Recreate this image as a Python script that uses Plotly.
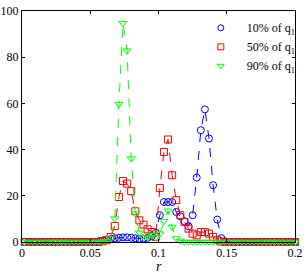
import plotly.graph_objects as go

# sample positions (r)
r = [0.002, 0.005, 0.008, 0.011, 0.014, 0.017, 0.020, 0.023, 0.026, 0.029,
     0.032, 0.035, 0.038, 0.041, 0.044, 0.047, 0.050, 0.053, 0.056, 0.059,
     0.062, 0.065, 0.068, 0.071, 0.074, 0.077, 0.080, 0.083, 0.086, 0.089,
     0.092, 0.095, 0.098, 0.101, 0.104, 0.107, 0.110, 0.113, 0.116, 0.119,
     0.122, 0.125, 0.128, 0.131, 0.134, 0.137, 0.140, 0.143, 0.146, 0.149,
     0.152, 0.155, 0.158, 0.161, 0.164, 0.167, 0.170, 0.173, 0.176, 0.179,
     0.182, 0.185, 0.188, 0.191, 0.194, 0.197, 0.200]

q10 = [0, 0, 0, 0, 0, 0, 0, 0, 0, 0,
       0, 0, 0, 0, 0, 0, 0, 0, 0.3, 0.6,
       1.0, 1.3, 1.6, 1.8, 2.0, 2.0, 1.8, 1.6, 1.4, 1.5,
       1.8, 2.5, 4.0, 11.6, 17.3, 17.3, 17.3, 13.0, 11.1, 9.0,
       6.8, 11.6, 27.9, 48.4, 57.4, 44.8, 24.6, 9.7, 1.7, 0.3,
       0, 0, 0, 0, 0, 0, 0, 0, 0, 0,
       0, 0, 0, 0, 0, 0, 0]

q50 = [0, 0, 0, 0, 0, 0, 0, 0, 0, 0,
       0, 0, 0, 0, 0, 0, 0, 0, 0, 0.3,
       0.8, 2.2, 6.9, 19.5, 26.4, 25.3, 22.0, 13.3, 9.4, 7.5,
       5.5, 4.3, 2.2, 23.4, 39.0, 44.4, 28.9, 18.1, 11.6, 8.7,
       5.8, 3.6, 2.9, 4.3, 4.3, 3.6, 2.2, 0.8, 0.2, 0,
       0, 0, 0, 0, 0, 0, 0, 0, 0, 0,
       0, 0, 0, 0, 0, 0, 0]

q90 = [0, 0, 0, 0, 0, 0, 0, 0, 0, 0,
       0, 0, 0, 0, 0, 0, 0, 0, 0, 0,
       0.3, 1.5, 10.1, 59.7, 94.7, 82.8, 36.1, 12.3, 4.0, 2.0,
       2.0, 3.0, 2.0, 3.6, 9.0, 13.5, 6.5, 1.5, 0.5, 0,
       0, 0, 0, 0, 0, 0, 0, 0, 0, 0,
       0, 0, 0, 0, 0, 0, 0, 0, 0, 0,
       0, 0, 0, 0, 0, 0, 0]

labels = ["&nbsp;&nbsp;10% of q<sub>1</sub>", "&nbsp;&nbsp;50% of q<sub>1</sub>",
          "&nbsp;&nbsp;90% of q<sub>1</sub>"]
colors = ["#0000ff", "#ff0000", "#00ff00"]
symbols = ["circle-open", "square-open", "triangle-down-open"]
series = [q10, q50, q90]

FONT = "Liberation Serif, Times New Roman, serif"

fig = go.Figure()
for ys, c, s in zip(series, colors, symbols):
    fig.add_trace(go.Scatter(
        x=r, y=ys, mode="lines+markers", showlegend=False, cliponaxis=False,
        line=dict(color=c, width=1, dash="dash"),
        marker=dict(symbol=s, size=7, color=c, line=dict(color=c, width=1)),
    ))
for lab, c, s in zip(labels, colors, symbols):
    fig.add_trace(go.Scatter(
        x=[None], y=[None], mode="markers", name=lab,
        marker=dict(symbol=s, size=6, color=c, line=dict(color=c, width=1)),
    ))

axis_common = dict(
    showline=True, linecolor="black", linewidth=1, mirror="ticks",
    ticks="inside", ticklen=3, tickcolor="black", showgrid=False, zeroline=False,
    automargin=False,
    tickfont=dict(family=FONT, size=12, color="black"),
)
fig.update_xaxes(range=[0, 0.2], tickvals=[0, 0.05, 0.1, 0.15, 0.2],
                 ticktext=["0", "0.05", "0.1", "0.15", "0.2"], **axis_common)
fig.update_yaxes(range=[0, 100], tickvals=[0, 20, 40, 60, 80, 100], **axis_common)

fig.add_annotation(text="<i>r</i>", xref="paper", yref="paper", x=0.5, y=-0.108,
                   xanchor="center", yanchor="middle", showarrow=False,
                   font=dict(family=FONT, size=14, color="black"))

fig.update_layout(
    width=306, height=273,
    margin=dict(l=22, r=11, t=11, b=31, autoexpand=False),
    paper_bgcolor="white", plot_bgcolor="white",
    font=dict(family=FONT, size=12, color="black"),
    legend=dict(x=0.655, y=0.99, xanchor="left", yanchor="top",
                bgcolor="rgba(0,0,0,0)", borderwidth=0,
                font=dict(family=FONT, size=12, color="black"),
                tracegroupgap=0, itemsizing="trace", itemwidth=30),
)

fig.write_html("out.html", config={"displayModeBar": False},
               post_script="document.body.style.margin='0';")
